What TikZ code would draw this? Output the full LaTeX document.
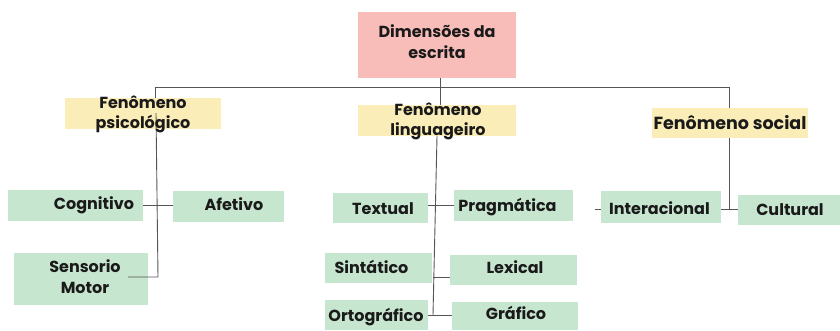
\documentclass[tikz,border=0pt]{standalone}
\usepackage{fontspec}
\setmainfont{Poppins}
\definecolor{pinkc}{HTML}{F8BDB9}
\definecolor{yellowc}{HTML}{FBEDB7}
\definecolor{greenc}{HTML}{C7E6CF}
\definecolor{linec}{HTML}{555555}
\definecolor{textc}{HTML}{1A1A1A}
\newcommand\mybox[6]{\node[boxbase, fill=#6, minimum width={#4-#2}, minimum height={#5-#3}] (#1) at ({(#2+#4)/2},{(#3+#5)/2}) {};}
\newcommand\mytext[4]{\node[lbl] (#1) at (#2,#3) {#4};}
\tikzset{
  boxbase/.style={rectangle, draw=none, inner sep=0pt, outer sep=0pt},
  lbl/.style={anchor=base, inner sep=0pt, text=textc, font=\bfseries\fontsize{16}{20}\selectfont},
  lblbig/.style={lbl, font=\bfseries\fontsize{17.5}{20}\selectfont},
  link/.style={draw=linec, line width=0.9pt}
}
\begin{document}
\begin{tikzpicture}[x=1pt,y=-1pt]
\useasboundingbox[fill=white] (0,0) rectangle (840,330);
% boxes
\mybox{root}{358}{12}{516}{78}{pinkc}
\mybox{psy}{65}{98}{221}{129}{yellowc}
\mybox{ling}{358}{105}{516}{136}{yellowc}
\mybox{soc}{652}{108}{808}{138}{yellowc}
\mybox{cog}{8}{190}{143}{221}{greenc}
\mybox{afe}{173}{191}{284}{222}{greenc}
\mybox{sen}{14}{253}{148}{305}{greenc}
\mybox{tex}{333}{193}{428}{223}{greenc}
\mybox{pra}{454}{190}{573}{221}{greenc}
\mybox{sin}{325}{253}{432}{283}{greenc}
\mybox{lex}{450}{255}{577}{285}{greenc}
\mybox{ort}{325}{300}{428}{330}{greenc}
\mybox{gra}{452}{302}{578}{330}{greenc}
\mybox{int}{601}{191}{721}{223}{greenc}
\mybox{cul}{738}{195}{840}{225}{greenc}
% coordinates
\coordinate (jl) at (155,87);
\coordinate (jm) at (440,87);
\coordinate (jr) at (729,87);
\coordinate (psyc) at (156,113);
\coordinate (psyb) at (158,277);
\coordinate (senj) at (128,277);
\coordinate (lingt) at (437,136);
\coordinate (lingb) at (433,315);
\coordinate (lexj) at (433,277);
\coordinate (socb) at (729,209);
\coordinate (dashl) at (595,209);
% connectors
\draw[link] (jl) -- (jr);
\draw[link] (root.south -| jm) -- (ling.north -| jm);
\draw[link] (jl) -- (psy.north -| jl);
\draw[link] (psyc) -- (psyb) -- (senj);
\draw[link] (cog.east) -- (afe.west |- cog.east);
\draw[link] (lingt) -- (lingb);
\draw[link] (tex.east |- pra.west) -- (pra.west);
\draw[link] (lexj) -- (lex.west |- lexj);
\draw[link] (ort.east) -- (gra.west |- ort.east);
\draw[link] (jr) -- (soc.north -| jr);
\draw[link] (soc.south -| jr) -- (socb);
\draw[link] (int.east |- socb) -- (cul.west |- socb);
\draw[link] (dashl) -- (int.west |- dashl);
% texts
\mytext{roott1}{437}{37}{Dimensões da}
\mytext{roott2}{437}{58}{escrita}
\mytext{psyt1}{143}{108}{Fenômeno}
\mytext{psyt2}{143}{128}{psicológico}
\mytext{lingt1}{438}{115}{Fenômeno}
\mytext{lingt2}{438}{135}{linguageiro}
\node[lblbig] (soct) at (730,129) {Fenômeno social};
\mytext{cogt}{94}{209}{Cognitivo}
\mytext{afet}{234}{210}{Afetivo}
\mytext{sent1}{85}{272}{Sensorio}
\mytext{sent2}{85}{293}{Motor}
\mytext{text}{383}{214}{Textual}
\mytext{prat}{507.5}{211.5}{Pragmática}
\mytext{sint}{371.5}{273}{Sintático}
\mytext{lext}{515}{273}{Lexical}
\mytext{ortt}{376}{321}{Ortográfico}
\mytext{grat}{516}{319}{Gráfico}
\mytext{intt}{659.5}{214}{Interacional}
\mytext{cult}{790}{215}{Cultural}
\end{tikzpicture}
\end{document}
